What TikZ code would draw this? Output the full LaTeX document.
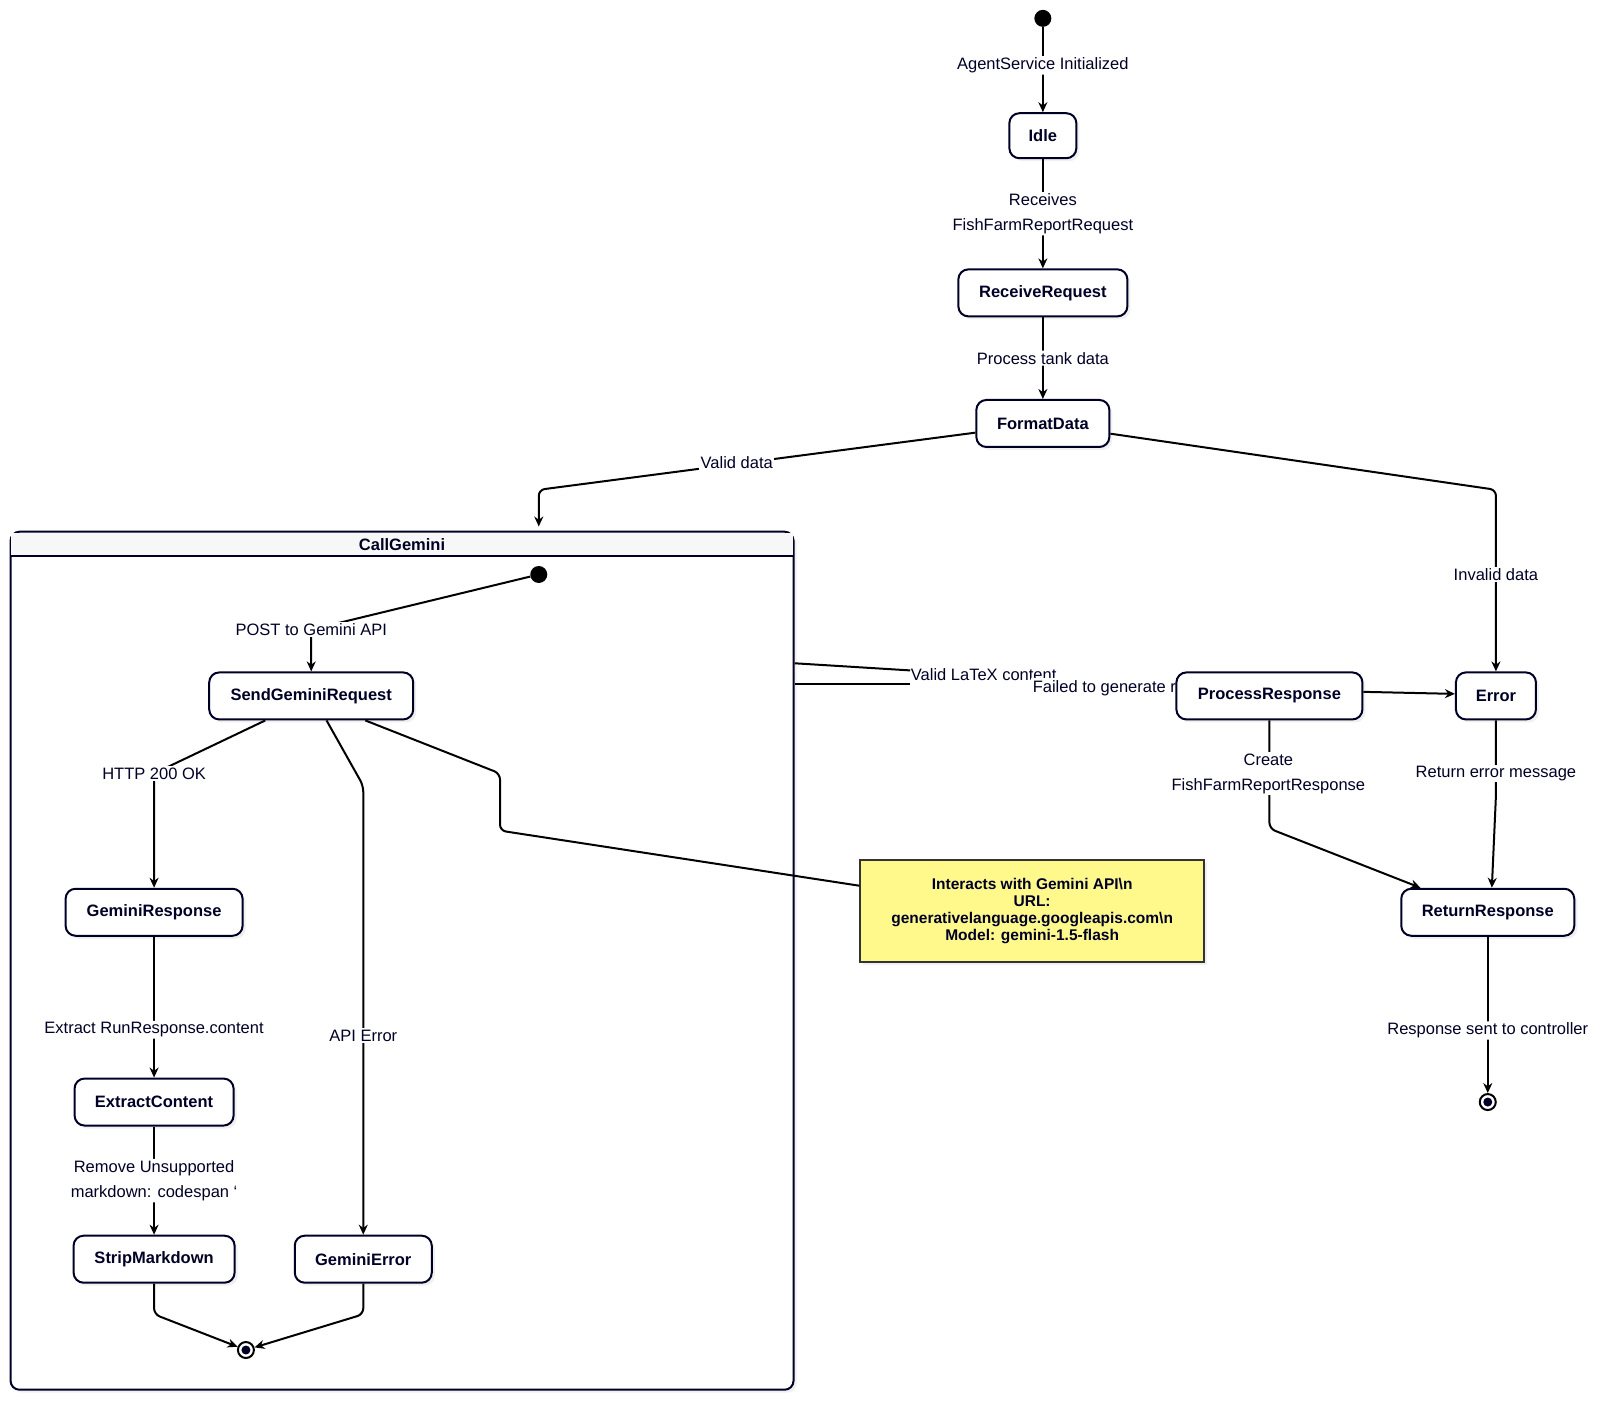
\documentclass[tikz,border=0pt]{standalone}
\usepackage{fontspec}
\setmainfont{Liberation Sans}
\usetikzlibrary{arrows.meta,shadows}
\begin{document}
\begin{tikzpicture}[x=1.0204pt,y=-1.0204pt,
  st/.style={draw=black!85!blue,line width=2pt,rounded corners=10pt,fill=white,font=\fontsize{16.5}{19}\selectfont\bfseries,text=black!85!blue,inner sep=0pt,drop shadow={opacity=0.12,shadow xshift=3pt,shadow yshift=-3pt}},
  lbl/.style={font=\fontsize{16.5}{25}\selectfont,fill=white,inner sep=1.5pt,align=center,text=black!85!blue},
  ed/.style={line width=2pt,-{Stealth[length=10pt,width=9pt]},rounded corners=6pt},
  ln/.style={line width=2pt,rounded corners=6pt},
  sdot/.style={circle,fill=black,inner sep=0pt,minimum size=17pt},
  edot/.style={circle,draw=black,line width=2pt,fill=white,inner sep=0pt,minimum size=16pt,path picture={\fill[black!85!blue] (path picture bounding box.center) circle (4.5pt);}}]
\useasboundingbox (0,0) rectangle (1568,1375);
% container
\node[draw=black!85!blue,line width=2pt,rounded corners=9pt,minimum width=783pt,minimum height=858pt,inner sep=0pt,drop shadow={opacity=0.12,shadow xshift=3pt,shadow yshift=-3pt},fill=white] (cg) at (394,941.5) {};
\fill[black!3] (11,522) rectangle (777,545);
\draw[line width=1.5pt,black!85!blue] (10,545) -- (778,545);
\node[font=\fontsize{16.5}{19}\selectfont\bfseries,text=black!85!blue] (cgt) at (394,534) {CallGemini};
% nodes
\node[sdot] (s0) at (1022,18) {};
\node[st,minimum width=67pt,minimum height=45pt] (idle) at (1022,133) {Idle};
\node[st,minimum width=169pt,minimum height=47pt] (rr) at (1022,287) {ReceiveRequest};
\node[st,minimum width=133pt,minimum height=47pt] (fd) at (1022,415) {FormatData};
\node[sdot] (s1) at (528,563) {};
\node[st,minimum width=204pt,minimum height=47pt] (send) at (305,682) {SendGeminiRequest};
\node[st,minimum width=177pt,minimum height=47pt] (gr) at (151,894) {GeminiResponse};
\node[st,minimum width=159pt,minimum height=47pt] (ec) at (151,1080) {ExtractContent};
\node[st,minimum width=161pt,minimum height=47pt] (sm) at (151,1234) {StripMarkdown};
\node[st,minimum width=137pt,minimum height=47pt] (ge) at (356,1234) {GeminiError};
\node[edot] (e1) at (241,1323) {};
\node[st,minimum width=80pt,minimum height=47pt] (err) at (1466,682) {Error};
\node[st,minimum width=173pt,minimum height=47pt] (ret) at (1458,894) {ReturnResponse};
\node[edot] (e0) at (1458,1080) {};
\node[draw=black!80,line width=1.5pt,fill=yellow!45!white,minimum width=344pt,minimum height=102pt,inner sep=0pt,align=center,font=\fontsize{15.5}{17}\selectfont\bfseries,text=black!85!blue,drop shadow={opacity=0.12,shadow xshift=3pt,shadow yshift=-3pt}] (note) at (1011.5,893) {Interacts with Gemini API\textbackslash n\\URL:\\generativelanguage.googleapis.com\textbackslash n\\Model: gemini-1.5-flash};
% top chain
\draw[ed] (s0) -- (idle) node[lbl,pos=0.45] {AgentService Initialized};
\draw[ed] (idle) -- (rr) node[lbl,pos=0.5] {Receives\\FishFarmReportRequest};
\draw[ed] (rr) -- (fd) node[lbl,pos=0.5] {Process tank data};
\coordinate (vd) at (528,480);
\draw[ed] (fd.west|-0,424) -- (vd) -- (528,516);
\node[lbl] at (722,453) {Valid data};
\coordinate (ivd) at (1466,480);
\draw[ed] (fd.east|-0,425) -- (ivd) -- (err.north);
\node[lbl] at (1466,563) {Invalid data};
% inner
\coordinate (p1) at (305,617);
\draw[ed] (s1) -- (p1) -- (send.north);
\node[lbl] at (305,617) {POST to Gemini API};
\coordinate (h1) at (151,758);
\draw[ed] (send.south-|260,0) -- (h1) -- (gr.north);
\node[lbl] at (151,758) {HTTP 200 OK};
\coordinate (a1) at (356,770);
\draw[ed] (send.south-|320,0) -- (a1) -- (ge.north);
\node[lbl] at (356,1015) {API Error};
\coordinate (n1) at (490,758);
\coordinate (n2) at (490,814);
\draw[ln] (send.south-|358,0) -- (n1) -- (n2) -- (note.west|-0,868);
\draw[ed] (gr) -- (ec) node[lbl,pos=0.66] {Extract RunResponse.content};
\draw[ed] (ec) -- (sm) node[lbl,pos=0.5] {Remove Unsupported\\markdown: codespan `};
\coordinate (b1) at (151,1288);
\coordinate (b2) at (356,1288);
\draw[ed] (sm) -- (b1) -- (e1);
\draw[ed] (ge) -- (b2) -- (e1);
% right side
\coordinate (c1) at (892,657);
\coordinate (c2) at (892,670);
\draw[ln] (cg.east|-0,650) -- (c1);
\node[lbl,anchor=west,fill=none] at (891,661) {Valid LaTeX content};
\draw[ln] (cg.east|-0,670) -- (c2);
\node[lbl,anchor=west,inner sep=2pt] at (1010,674) {Failed to generate report};
\node[st,minimum width=186pt,minimum height=47pt] (pr) at (1244,682) {ProcessResponse};
\draw[ed] (pr.east|-0,678) -- (err.west|-0,680);
\coordinate (r1) at (1244,812);
\draw[ed] (pr.south) -- (r1) -- (ret.north-|1392,0);
\node[lbl] at (1243,758) {Create\\FishFarmReportResponse};
\coordinate (r2) at (1466,780);
\draw[ed] (err.south) -- (r2) -- (ret.north-|1462,0);
\node[lbl] at (1466,758) {Return error message};
\draw[ed] (ret) -- (e0) node[lbl,pos=0.6] {Response sent to controller};
\end{tikzpicture}
\end{document}
